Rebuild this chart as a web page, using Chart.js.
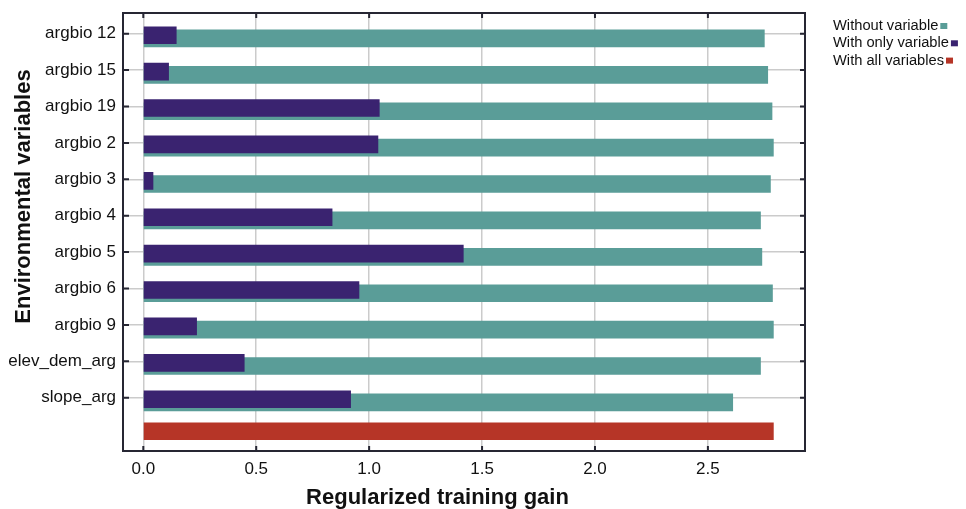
<!DOCTYPE html>
<html>
<head>
<meta charset="utf-8">
<style>
  html, body { margin: 0; padding: 0; background: #ffffff; }
  #wrap { width: 966px; height: 509px; }
</style>
<script src="https://cdn.jsdelivr.net/npm/chart.js@4/dist/chart.umd.min.js"></script>
</head>
<body>
<div id="wrap"><canvas id="c" width="966" height="509"></canvas></div>
<script>
// Jackknife of regularized training gain per environmental variable
const variables = ['argbio 12', 'argbio 15', 'argbio 19', 'argbio 2', 'argbio 3', 'argbio 4',
                   'argbio 5', 'argbio 6', 'argbio 9', 'elev_dem_arg', 'slope_arg'];
const withoutVariable  = [2.750, 2.765, 2.784, 2.790, 2.777, 2.733, 2.739, 2.786, 2.790, 2.733, 2.610];
const withOnlyVariable = [0.146, 0.112, 1.045, 1.039, 0.043, 0.836, 1.417, 0.955, 0.236, 0.447, 0.918];
const withAllVariables = 2.790;
const gainTicks = [0.0, 0.5, 1.0, 1.5, 2.0, 2.5];
const seriesLabels = ['Without variable', 'With only variable', 'With all variables'];
const seriesColors = ['#5a9d98', '#3a2370', '#b63527'];

// the last row holds the full-model bar and carries no label
const rows = [...variables, ''];
const allRow = rows.length - 1;

const FONT = "'Liberation Sans', Arial, Helvetica, sans-serif";
const FRAME = '#262633';
const TEXT = '#111111';

const teal = withoutVariable.map((v, i) => ({ x: v, y: i }));
const purple = withOnlyVariable.map((v, i) => ({ x: v, y: i }));
const red = [{ x: withAllVariables, y: allRow }];

// nudges each dataset vertically by its shiftY (px)
const shiftBars = {
  id: 'shiftBars',
  beforeDatasetDraw(chart, args) {
    const s = chart.data.datasets[args.index].shiftY || 0;
    chart.ctx.save();
    chart.ctx.translate(0, s);
  },
  afterDatasetDraw(chart) {
    chart.ctx.restore();
  }
};

// frame with inward ticks, axis titles and the legend column
const decorations = {
  id: 'decorations',
  afterDraw(chart) {
    const { ctx, chartArea: a, scales } = chart;
    const xs = scales.x, ys = scales.y;
    ctx.save();
    ctx.strokeStyle = FRAME;
    ctx.lineWidth = 2;
    ctx.strokeRect(a.left, a.top, a.right - a.left, a.bottom - a.top);

    const tl = 5;
    ctx.beginPath();
    gainTicks.forEach(v => {
      const px = xs.getPixelForValue(v);
      ctx.moveTo(px, a.top); ctx.lineTo(px, a.top + tl);
      ctx.moveTo(px, a.bottom); ctx.lineTo(px, a.bottom - tl);
    });
    variables.forEach((_, i) => {
      const py = ys.getPixelForValue(i);
      ctx.moveTo(a.left, py); ctx.lineTo(a.left + tl + 1, py);
      ctx.moveTo(a.right, py); ctx.lineTo(a.right - tl, py);
    });
    ctx.stroke();

    // axis titles
    ctx.fillStyle = TEXT;
    ctx.font = `bold 22px ${FONT}`;
    ctx.textAlign = 'center';
    ctx.textBaseline = 'alphabetic';
    ctx.fillText('Regularized training gain', 437.5, 504);
    ctx.save();
    ctx.translate(30, 196.5);
    ctx.rotate(-Math.PI / 2);
    ctx.fillText('Environmental variables', 0, 0);
    ctx.restore();

    // legend
    ctx.font = `14.7px ${FONT}`;
    ctx.textAlign = 'left';
    ctx.textBaseline = 'middle';
    const lx = 833, ly = 26, step = 17.3;
    seriesLabels.forEach((lab, i) => {
      const y = ly + i * step;
      ctx.fillStyle = TEXT;
      ctx.fillText(lab, lx, y);
      const w = ctx.measureText(lab).width;
      const mx = Math.min(955.5, lx + w + 2);
      ctx.fillStyle = seriesColors[i];
      ctx.fillRect(mx, y - 3, 7, 6);
    });
    ctx.restore();
  }
};

new Chart(document.getElementById('c'), {
  type: 'bar',
  data: {
    datasets: [
      { label: seriesLabels[0], data: teal, backgroundColor: seriesColors[0], shiftY: 4.7, order: 3 },
      { label: seriesLabels[1], data: purple, backgroundColor: seriesColors[1], shiftY: 1.5, order: 2 },
      { label: seriesLabels[2], data: red, backgroundColor: seriesColors[2], shiftY: -2.9, order: 1 }
    ]
  },
  options: {
    indexAxis: 'y',
    responsive: false,
    animation: false,
    devicePixelRatio: 1,
    layout: { padding: { top: 13, right: 161, bottom: 0, left: 0 } },
    datasets: { bar: { grouped: false, barThickness: 17, borderWidth: 0 } },
    plugins: { legend: { display: false }, tooltip: { enabled: false } },
    scales: {
      x: {
        type: 'linear',
        min: -0.0899,
        max: 2.930,
        afterBuildTicks(s) { s.ticks = gainTicks.map(v => ({ value: v })); },
        afterFit(s) { s.height = 58; s.paddingLeft = 0; s.paddingRight = 0; },
        border: { display: false },
        grid: { color: '#cbcbcb', lineWidth: 1.5, drawTicks: false },
        ticks: {
          padding: 8,
          color: TEXT,
          font: { family: FONT, size: 17 },
          callback: (v, i) => gainTicks[i].toFixed(1)
        }
      },
      y: {
        type: 'linear',
        reverse: true,
        offset: false,
        min: -0.569,
        max: 11.464,
        afterBuildTicks(s) { s.ticks = rows.map((_, i) => ({ value: i })); },
        afterFit(s) { s.width = 123; s.paddingTop = 0; s.paddingBottom = 0; },
        border: { display: false },
        grid: {
          offset: false,
          color: c => (c.index === allRow ? 'rgba(0,0,0,0)' : '#cbcbcb'),
          lineWidth: 1.5,
          drawTicks: false
        },
        ticks: {
          padding: 7,
          color: TEXT,
          font: { family: FONT, size: 17 },
          callback: (v, i) => rows[i]
        }
      }
    }
  },
  plugins: [shiftBars, decorations]
});
</script>
</body>
</html>
